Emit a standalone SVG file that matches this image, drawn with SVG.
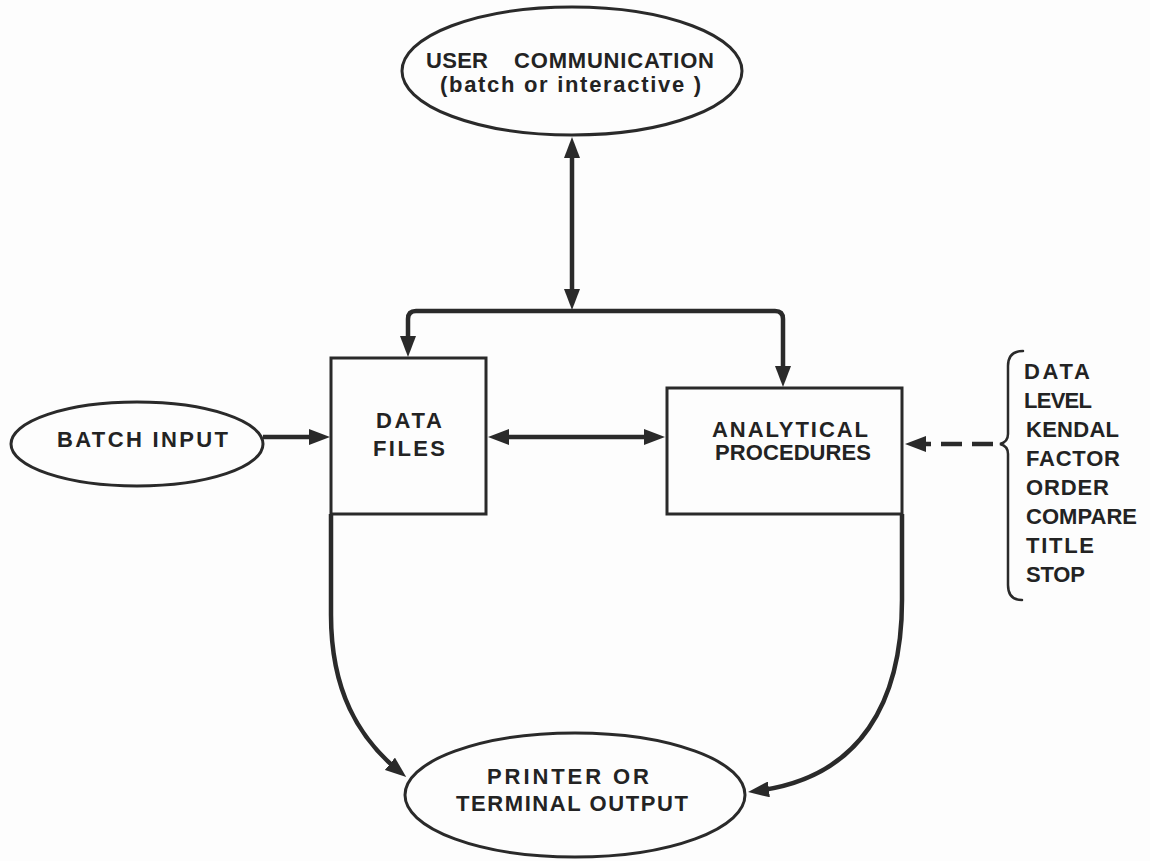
<svg xmlns="http://www.w3.org/2000/svg" width="1150" height="861" viewBox="0 0 1150 861">
  <style>
    .shape { fill: none; stroke: #2a2a2a; stroke-width: 3; }
    .link { fill: none; stroke: #2a2a2a; stroke-width: 4.5; }
    .dash { stroke-dasharray: 21 10; }
    .brace { fill: none; stroke: #2a2a2a; stroke-width: 2.5; stroke-linecap: round; }
    text { font-family: "Liberation Sans", Arial, sans-serif; font-weight: bold; font-size: 22px; fill: #232323; }
    .list { font-size: 22px; }
  </style>
  <defs>
    <marker id="ah" viewBox="0 0 21 16" refX="13" refY="8" markerWidth="21" markerHeight="16" markerUnits="userSpaceOnUse" orient="auto-start-reverse">
      <path d="M0,0 L21,8 L0,16 z" fill="#2a2a2a"/>
    </marker>
  </defs>

  <rect width="1150" height="861" fill="#fdfdfd"/>

  <!-- connectors -->
  <g id="connectors">
    <path class="link" d="M572,145 L572,302" marker-start="url(#ah)" marker-end="url(#ah)"/>
    <path class="link" d="M408,349 L408,319 Q408,311 416,311 L775,311 Q783,311 783,319 L783,379" marker-start="url(#ah)" marker-end="url(#ah)"/>
    <path class="link" d="M263,437 L322,437" marker-end="url(#ah)"/>
    <path class="link" d="M496,437 L657,437" marker-start="url(#ah)" marker-end="url(#ah)"/>
    <path class="link dash" d="M993,444 L913,444" marker-end="url(#ah)"/>
    <path class="link" d="M331,514 L331,615 C331,690 358,738 400,772" marker-end="url(#ah)"/>
    <path class="link" d="M902,514 L902,600 C902,700 862,778 756,791" marker-end="url(#ah)"/>
  </g>

  <g id="user-communication">
    <ellipse class="shape" cx="572" cy="71" rx="170" ry="64"/>
    <text x="426" y="68" textLength="62" lengthAdjust="spacing">USER</text>
    <text x="514" y="68" textLength="200" lengthAdjust="spacing">COMMUNICATION</text>
    <text x="440" y="92" textLength="261" lengthAdjust="spacing">(batch or interactive )</text>
  </g>

  <g id="batch-input">
    <ellipse class="shape" cx="137" cy="444" rx="126" ry="42"/>
    <text x="57" y="447" textLength="171" lengthAdjust="spacing">BATCH INPUT</text>
  </g>

  <g id="data-files">
    <rect class="shape" x="331" y="358" width="155" height="156"/>
    <text x="376" y="428" textLength="66" lengthAdjust="spacing">DATA</text>
    <text x="373" y="456" textLength="72" lengthAdjust="spacing">FILES</text>
  </g>

  <g id="analytical-procedures">
    <rect class="shape" x="667" y="388" width="235" height="126"/>
    <text x="712" y="437" textLength="156" lengthAdjust="spacing">ANALYTICAL</text>
    <text x="715" y="460" textLength="156" lengthAdjust="spacing">PROCEDURES</text>
  </g>

  <g id="commands">
    <path class="brace" d="M1023,351 Q1008,351 1008,366 L1008,434 Q1008,442 1000,444 Q1008,446 1008,454 L1008,585 Q1008,600 1022,600"/>
    <text class="list" x="1024" y="379" textLength="66" lengthAdjust="spacing">DATA</text>
    <text class="list" x="1024" y="408" textLength="68" lengthAdjust="spacing">LEVEL</text>
    <text class="list" x="1026" y="437" textLength="93" lengthAdjust="spacing">KENDAL</text>
    <text class="list" x="1026" y="466" textLength="94" lengthAdjust="spacing">FACTOR</text>
    <text class="list" x="1026" y="495" textLength="83" lengthAdjust="spacing">ORDER</text>
    <text class="list" x="1026" y="524" textLength="111" lengthAdjust="spacing">COMPARE</text>
    <text class="list" x="1026" y="553" textLength="68" lengthAdjust="spacing">TITLE</text>
    <text class="list" x="1026" y="582" textLength="59" lengthAdjust="spacing">STOP</text>
  </g>

  <g id="printer-output">
    <ellipse class="shape" cx="575" cy="795" rx="170" ry="62"/>
    <text x="487" y="784" textLength="162" lengthAdjust="spacing">PRINTER OR</text>
    <text x="456" y="811" textLength="232" lengthAdjust="spacing">TERMINAL OUTPUT</text>
  </g>
</svg>
